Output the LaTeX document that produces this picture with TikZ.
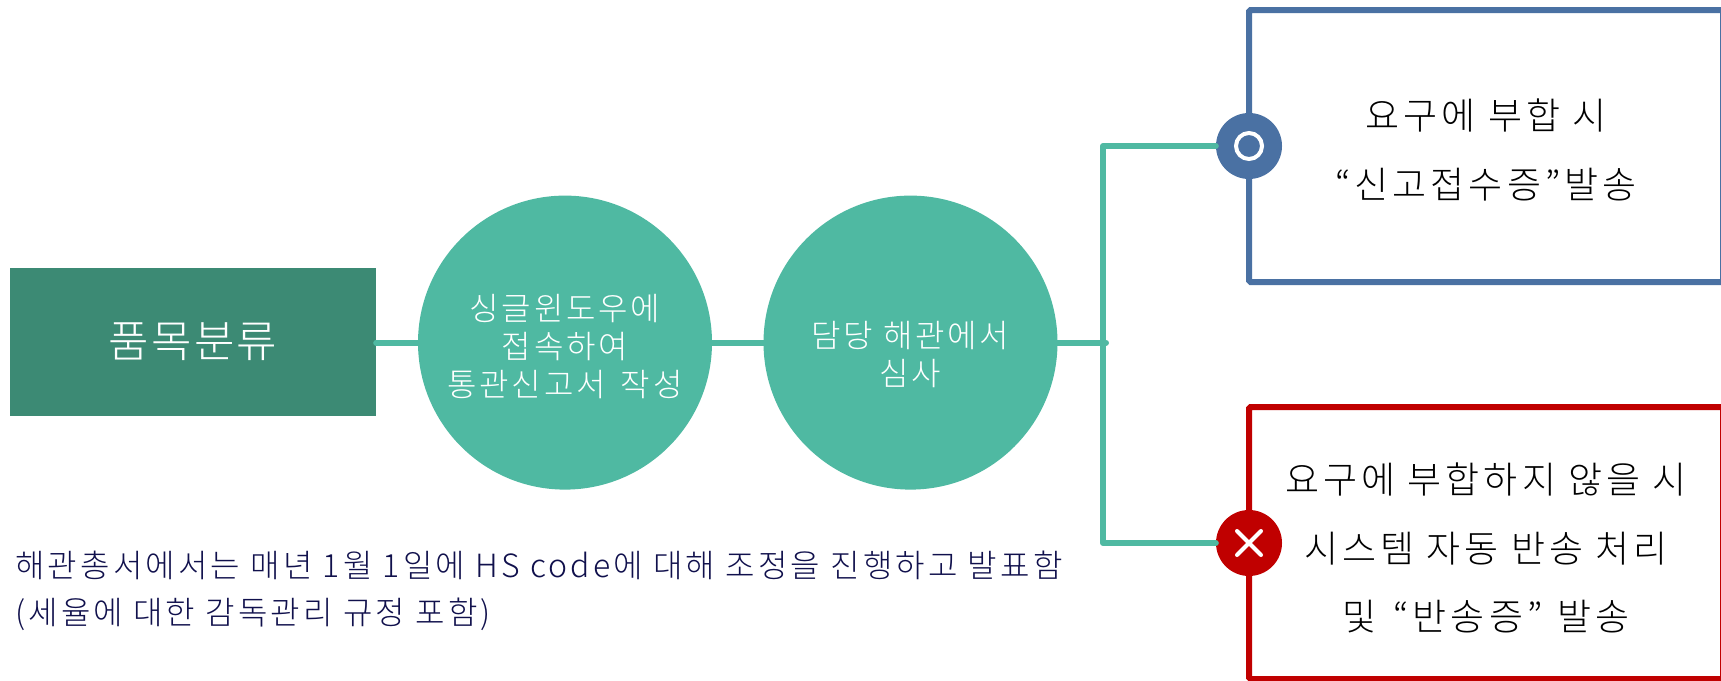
\documentclass[tikz,border=0pt]{standalone}
\usepackage{fontspec}
\setmainfont{Noto Sans CJK KR Light}
\newfontfamily\boxfont[LetterSpace=11]{Noto Sans CJK KR Light}
\newfontfamily\roundfont[LetterSpace=8.8]{Noto Sans CJK KR Light}
\newfontfamily\itemfont[LetterSpace=5]{Noto Sans CJK KR Light}
\newfontfamily\capfont[LetterSpace=9.9]{Noto Sans CJK KR Light}
\definecolor{teal1}{HTML}{4FB9A2}
\definecolor{teal2}{HTML}{3C8A74}
\definecolor{blue1}{HTML}{4A71A3}
\definecolor{red1}{HTML}{C00000}
\definecolor{navy1}{HTML}{10104C}
\tikzset{
  round1/.style={circle,fill=teal1,minimum size=294pt,inner sep=0pt},
  whitetext/.style={text=white,align=center,inner sep=0pt,font=\roundfont\fontsize{32}{38}\selectfont},
  wire/.style={draw=teal1,line width=6pt,line join=round,line cap=round},
  resbox/.style={draw=#1,line width=6pt,rounded corners=1.5pt,fill=white,minimum width=474pt,minimum height=272pt,inner sep=0pt},
  boxtext/.style={align=center,inner sep=0pt,font=\boxfont\fontsize{37}{68.5}\selectfont},
  badge/.style={circle,fill=#1,minimum size=66pt,inner sep=0pt},
  caption/.style={text=navy1,anchor=west,inner sep=0pt,font=\capfont\fontsize{32}{34}\selectfont}
}
\begin{document}
\begin{tikzpicture}[x=1pt,y=-1pt]
\useasboundingbox (0,0) rectangle (1721,680);
\clip (0,0) rectangle (1721,680);
\node[fill=teal2,minimum width=366pt,minimum height=148pt,inner sep=0pt,text=white,font=\itemfont\fontsize{44}{48}\selectfont] (item) at (193,342) {품목분류};
\node[round1] (c1) at (565,342.6) {};
\node[round1] (c2) at (910.5,342.6) {};
\coordinate (j) at (1106,342.6);
\coordinate (t1) at (1103,146);
\coordinate (t2) at (1103,543);
\node[resbox=blue1] (b1) at (1486,146) {};
\node[resbox=red1] (b2) at (1486,543) {};
\node[boxtext] (b1t) at (1486,150) {요구에 부합 시\\“신고접수증”발송};
\node[boxtext] (b2t) at (1486,548) {요구에 부합하지 않을 시\\시스템 자동 반송 처리\\및 \hspace{5pt}“반송증” \hspace{3pt}발송};
\node[badge=blue1] (k1) at (1249,146) {};
\node[badge=red1] (k2) at (1249,543) {};
\draw[wire] (item.east |- c1.west) -- (c1.west);
\draw[wire] (c1.east) -- (c2.west);
\draw[wire] (c2.east) -- (j);
\draw[wire] (k1.west) -- (t1) -- (t2) -- (k2.west);
\node[whitetext] (c1t) at (565,347) {싱글윈도우에\\접속하여\\통관신고서 \hspace{5pt}작성};
\node[whitetext] (c2t) at (910.5,354) {담당 해관에서\\심사};
\draw[white,line width=4pt] (k1.center) circle (13pt);
\draw[white,line width=4pt,line cap=round] ([shift={(-12,-12)}]k2.center) -- ([shift={(12,12)}]k2.center);
\draw[white,line width=4pt,line cap=round] ([shift={(-12,12)}]k2.center) -- ([shift={(12,-12)}]k2.center);
\node[caption] (n1) at (15,565) {해관총서에서는 매년 1월 1일에 HS code에 대해 조정을 진행하고 발표함};
\node[caption] (n2) at (15,614) {(세율에 대한 감독관리 규정 포함)};
\end{tikzpicture}
\end{document}
